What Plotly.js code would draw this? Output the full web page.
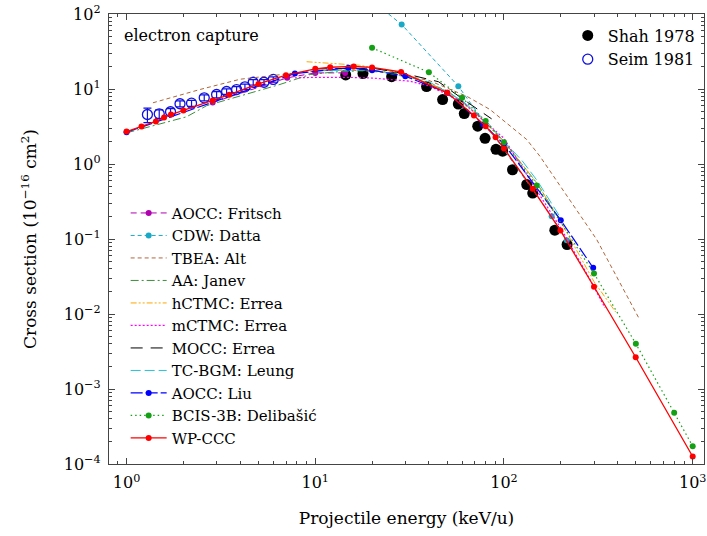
<!DOCTYPE html>
<html><head><meta charset="utf-8">
<script src="https://cdn.plot.ly/plotly-3.0.1.min.js"></script>
<style>html,body{margin:0;padding:0;background:#fff}#chart{width:707px;height:536px}</style>
</head><body><div id="chart"></div>
<script>
// ---- data (energy in keV/u, cross section in 1e-16 cm^2) ----
const shahE = [14.5, 17.9, 25.4, 38.9, 47.3, 57.3, 61.6, 72.6, 79.4, 90.7, 98.4, 111, 132, 142, 186, 216];
const shahS = [15.4, 16.1, 14.6, 10.8, 7.24, 6.31, 4.71, 3.19, 2.20, 1.57, 1.48, 0.838, 0.533, 0.41, 0.131, 0.0845];
const shahErr = [1.5, 1.6, 1.5, 1.1, 0.7, 0.6, 0.5, 0.3, 0.2, 0.16, 0.15, 0.08, 0.05, 0.04, 0.013, 0.008];

const seimE = [1.29, 1.49, 1.71, 1.92, 2.21, 2.58, 3.0, 3.39, 3.83, 4.24, 4.69, 5.35, 5.99];
const seimS = [4.57, 4.67, 4.97, 6.36, 6.47, 7.63, 8.45, 9.26, 9.84, 10.7, 12.3, 12.3, 13.4];
const seimErr = [1.0, 0.6, 0.5, 0.6, 0.6, 0.7, 0.8, 0.8, 0.9, 0.9, 1.0, 1.0, 1.1];

const fritschE = [2.86, 7.1, 10, 14.4];
const fritschS = [6.6, 14.1, 16.4, 16.4];

const cdwE = [20, 28.7, 57.3, 179, 215];
const cdwS = [150, 72.4, 10.9, 0.201, 0.0964];

const altE = [1.38, 2.45, 4, 6.5, 10, 15, 25, 40, 63.5, 84.3, 103, 132, 155, 186, 224, 310, 521];
const altS = [6.55, 9.85, 13.5, 15.6, 17.5, 18.0, 16.5, 13.0, 8.0, 5.33, 3.54, 2.12, 1.27, 0.655, 0.33, 0.0985, 0.00863];

const janevE = [1, 2.08, 2.66, 6.5, 9.4, 12.4, 20, 30, 50, 70, 100, 150, 200];
const janevS = [2.6, 4.26, 6.0, 11.5, 15.6, 16.8, 17.8, 15.5, 9.5, 5.0, 2.0, 0.55, 0.17];

const hctmcE = [9, 17.2, 30, 50, 70, 100, 150, 200, 300, 339, 391];
const hctmcS = [23.1, 20.7, 16, 9.3, 4.8, 2.0, 0.55, 0.17, 0.027, 0.0173, 0.0106];

const mctmcE = [7.8, 10, 15, 20, 31.8, 40, 60, 80, 100, 137, 200, 286, 343];
const mctmcS = [14.1, 14.3, 14.3, 14.0, 12.7, 11.0, 6.8, 3.6, 2.2, 0.62, 0.14, 0.0287, 0.0121];

const moccE = [10, 20, 30, 45, 61, 86];
const moccS = [18.5, 19, 16, 12.5, 7.24, 4.0];

const tcbgmE = [10, 20, 40, 60, 80, 100, 125, 150, 200];
const tcbgmS = [17.5, 18, 12.5, 7.0, 3.8, 2.0, 1.1, 0.6, 0.19];

const liuE = [1, 7.8, 15, 20, 30, 50, 77.7, 100, 200, 297];
const liuS = [2.65, 16.1, 19.2, 17.8, 14.8, 8.9, 3.36, 1.85, 0.178, 0.0413];

const bcisE = [20, 40, 60, 80, 100, 149, 300, 500, 798, 1000];
const bcisS = [35.4, 16.7, 7.64, 3.73, 1.95, 0.517, 0.0347, 0.00401, 0.000482, 0.000173];

const wpE = [1, 1.2, 1.43, 1.58, 1.72, 2, 2.86, 3.5, 5, 7, 10, 12, 16, 20, 28.5, 50, 69.3, 80, 90.3, 100, 142, 199, 300, 499, 1000];
const wpS = [2.71, 3.16, 3.69, 4.17, 4.57, 5.17, 7.0, 8.4, 11.7, 15.3, 18.6, 19.5, 20.0, 19.4, 16.9, 8.9, 4.43, 3.19, 2.27, 1.61, 0.467, 0.13, 0.0231, 0.00265, 0.000126];

const xTickVals = [1, 10, 100, 1000];
const xTickText = ['10<sup>0</sup>', '10<sup>1</sup>', '10<sup>2</sup>', '10<sup>3</sup>'];
const yTickVals = [1e-4, 1e-3, 1e-2, 1e-1, 1, 10, 100];
const yTickText = ['10<sup>−4</sup>', '10<sup>−3</sup>', '10<sup>−2</sup>', '10<sup>−1</sup>', '10<sup>0</sup>', '10<sup>1</sup>', '10<sup>2</sup>'];

// minor tick positions (axis decoration)
function minors(lo, hi) {
  const out = [];
  for (let p = lo; p < hi; p++) for (let d = 2; d <= 9; d++) out.push(d * Math.pow(10, p));
  return out;
}

const FONT = 'DejaVu Serif, serif';

function theory(name, x, y, color, dash, width, withMarkers) {
  return {
    type: 'scatter', name: name, x: x, y: y,
    mode: withMarkers ? 'lines+markers' : 'lines',
    line: {color: color, dash: dash, width: width},
    marker: {color: color, size: 6, symbol: 'circle'},
    legend: 'legend'
  };
}

const traces = [
  {type: 'scatter', name: 'Shah 1978', x: shahE, y: shahS, mode: 'markers',
   marker: {color: '#000', size: 11, symbol: 'circle'},
   error_y: {type: 'data', array: shahErr, arrayminus: shahErr, color: '#000', thickness: 1.2, width: 4},
   legend: 'legend2'},
  {type: 'scatter', name: 'Seim 1981', x: seimE, y: seimS, mode: 'markers',
   marker: {color: '#1010e0', size: 10, symbol: 'circle-open', line: {width: 1.3, color: '#1010e0'}},
   error_y: {type: 'data', array: seimErr, arrayminus: seimErr, color: '#1010e0', thickness: 1.2, width: 4},
   legend: 'legend2'},
  theory('AOCC: Fritsch', fritschE, fritschS, '#b000b0', '6px,4px', 1, true),
  theory('CDW: Datta', cdwE, cdwS, '#17a9c6', '4px,3px', 1, true),
  theory('TBEA: Alt', altE, altS, '#b0653a', '4px,3px', 1, false),
  theory('AA: Janev', janevE, janevS, '#3a8f3a', '8px,3px,2px,3px', 1, false),
  theory('hCTMC: Errea', hctmcE, hctmcS, '#ffa500', '6px,2px,2px,2px,2px,2px', 1, false),
  theory('mCTMC: Errea', mctmcE, mctmcS, '#ff00ff', '2px,2px', 1.2, false),
  theory('MOCC: Errea', moccE, moccS, '#000000', '12px,8px', 1, false),
  theory('TC-BGM: Leung', tcbgmE, tcbgmS, '#22c3d8', '10px,4px', 1, false),
  theory('AOCC: Liu', liuE, liuS, '#0000ff', '12px,3px', 1.2, true),
  theory('BCIS-3B: Delibašić', bcisE, bcisS, '#14a014', '1.5px,3px', 1.2, true),
  theory('WP-CCC', wpE, wpS, '#ff0000', 'solid', 1.3, true)
];

const axisCommon = {
  type: 'log', ticks: 'inside', ticklen: 6, tickwidth: 1, tickcolor: '#444',
  showline: true, linecolor: '#444', linewidth: 1.2, mirror: 'allticks',
  showgrid: false, zeroline: false, tickfont: {family: FONT, size: 16, color: '#000'},
  tickmode: 'array', ticklabelstandoff: 4
};

const layout = {
  width: 707, height: 536,
  margin: {l: 109, r: 3, t: 14, b: 72},
  paper_bgcolor: '#fff', plot_bgcolor: '#fff',
  font: {family: FONT, color: '#000'},
  showlegend: true,
  xaxis: Object.assign({}, axisCommon, {
    range: [-0.093, 3.06], tickvals: xTickVals, ticktext: xTickText,
    minor: {ticks: 'inside', ticklen: 3, tickcolor: '#444', tickvals: minors(-1, 4)},
    title: {text: 'Projectile energy (keV/u)', font: {family: FONT, size: 17, color: '#000'}, standoff: 20}
  }),
  yaxis: Object.assign({}, axisCommon, {
    range: [-4, 2], tickvals: yTickVals, ticktext: yTickText,
    minor: {ticks: 'inside', ticklen: 3, tickcolor: '#444', tickvals: minors(-4, 2)},
    title: {text: 'Cross section (10<sup>−16</sup> cm<sup>2</sup>)', font: {family: FONT, size: 17, color: '#000'}, standoff: 22}
  }),
  legend: {
    x: 0.028, y: 0.594, xanchor: 'left', yanchor: 'top',
    bgcolor: 'rgba(0,0,0,0)', borderwidth: 0, itemwidth: 36,
    font: {family: FONT, size: 15, color: '#000'}, tracegroupgap: 0
  },
  legend2: {
    x: 0.771, y: 0.99, xanchor: 'left', yanchor: 'top',
    bgcolor: 'rgba(0,0,0,0)', borderwidth: 0, itemwidth: 30,
    font: {family: FONT, size: 16, color: '#000'}
  },
  annotations: [{
    text: 'electron capture', xref: 'paper', yref: 'paper', x: 0.022, y: 0.953,
    xanchor: 'left', yanchor: 'middle', showarrow: false,
    font: {family: FONT, size: 16, color: '#000'}
  }]
};

Plotly.newPlot('chart', traces, layout, {displayModeBar: false, staticPlot: true});
</script></body></html>
